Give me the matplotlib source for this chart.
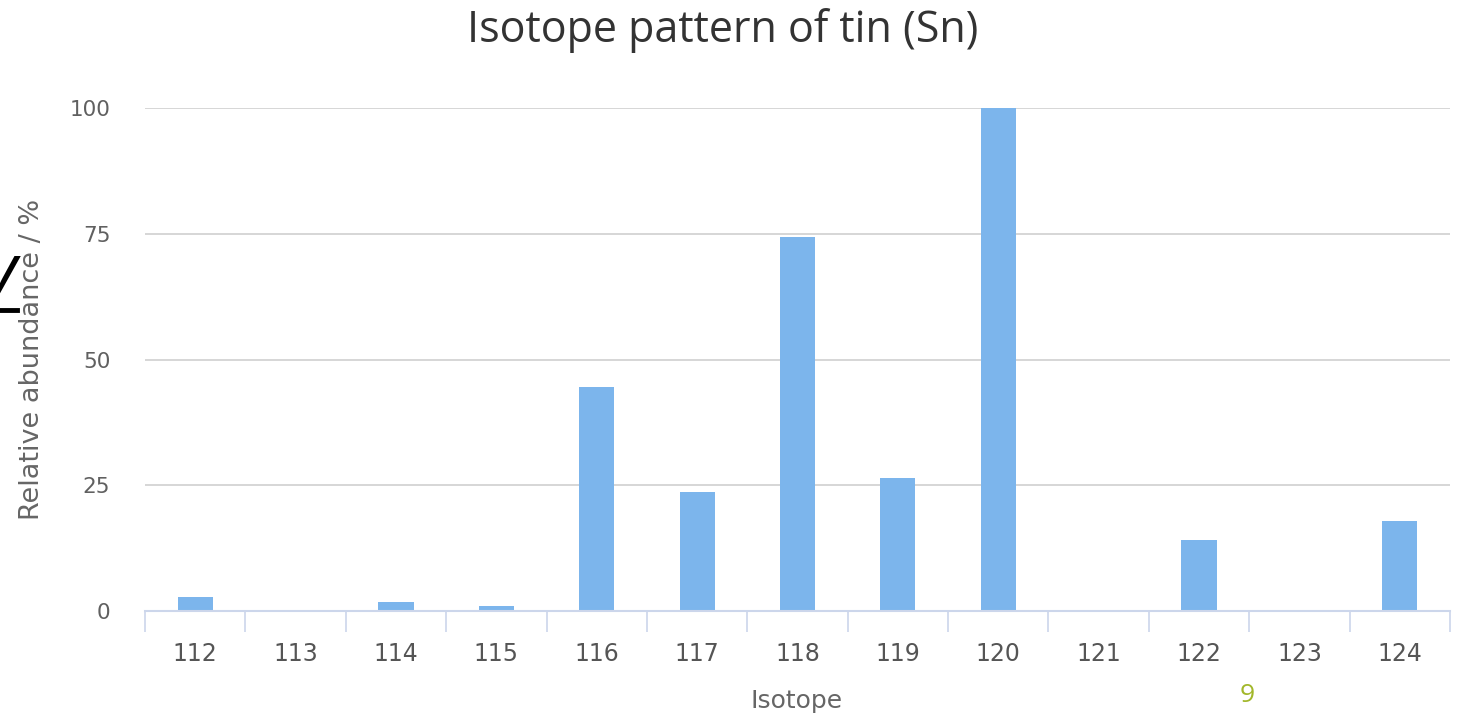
import matplotlib
matplotlib.use("Agg")
import matplotlib.pyplot as plt
from matplotlib.lines import Line2D
import numpy as np

isotopes = ["112", "113", "114", "115", "116", "117", "118", "119", "120", "121", "122", "123", "124"]
abundance = [2.8, 0, 1.8, 1.0, 44.6, 23.6, 74.3, 26.4, 100, 0, 14.2, 0, 17.8]
yticks = [0, 25, 50, 75, 100]

W, H = 1460, 716
fig = plt.figure(figsize=(W / 100, H / 100), dpi=100)
fig.patch.set_facecolor("white")

left, right, bottom_px, top_px = 145, 1450, 611, 108
ax = fig.add_axes([left / W, (H - bottom_px) / H, (right - left) / W, (bottom_px - top_px) / H])

x = np.arange(len(isotopes))
ax.bar(x, abundance, width=0.35, color="#7cb5ec", zorder=3)

ax.set_xlim(-0.5, len(isotopes) - 0.5)
ax.set_ylim(0, 100)

# grid
ax.set_yticks(yticks)
ax.set_yticklabels([str(v) for v in yticks], fontsize=15.5, color="#606060", family="DejaVu Sans")
ax.tick_params(axis="y", length=0, pad=25)
for v in yticks[1:]:
    ax.axhline(v, color="#d0d0d0", lw=1.2, zorder=1)

# x ticks: boundaries as major ticks, labels at centers as minor
ax.set_xticks(np.arange(-0.5, len(isotopes), 1.0))
ax.set_xticklabels([])
ax.tick_params(axis="x", which="major", length=15, width=1.2, color="#ccd6eb")
ax.set_xticks(x, minor=True)
ax.set_xticklabels(isotopes, minor=True, fontsize=17, color="#555555", family="DejaVu Sans")
ax.tick_params(axis="x", which="minor", length=0, pad=22)

for s in ["top", "right", "left"]:
    ax.spines[s].set_visible(False)
ax.spines["bottom"].set_color("#ccd6eb")
ax.spines["bottom"].set_linewidth(1.5)
ax.spines["bottom"].set_zorder(4)

fig.text(797 / W, 1 - 701 / H, "Isotope", ha="center", va="center",
         fontsize=18, color="#666666", family="DejaVu Sans")
fig.text(32 / W, 1 - 359 / H, "Relative abundance / %", rotation=90, ha="center", va="center",
         fontsize=19.5, color="#666666", family="DejaVu Sans")

fig.text(723 / W, 1 - 31 / H, "Isotope pattern of tin (Sn)", ha="center", va="center",
         fontsize=31, color="#333333", family="Open Sans")

fig.text(1247 / W, 1 - 695 / H, "9", ha="center", va="center", fontsize=19,
         color="#a2b72a", family="Open Sans")

# cropped slide fragment at left edge
fig.text(17 / W, 1 - 275 / H, "y", ha="right", va="center", fontsize=52,
         color="black", family="Open Sans", style="italic")
fig.add_artist(Line2D([0, 17 / W], [1 - 310 / H, 1 - 310 / H], color="black", lw=3.5,
                      transform=fig.transFigure))

fig.savefig("out.png", dpi=100, facecolor="white")
